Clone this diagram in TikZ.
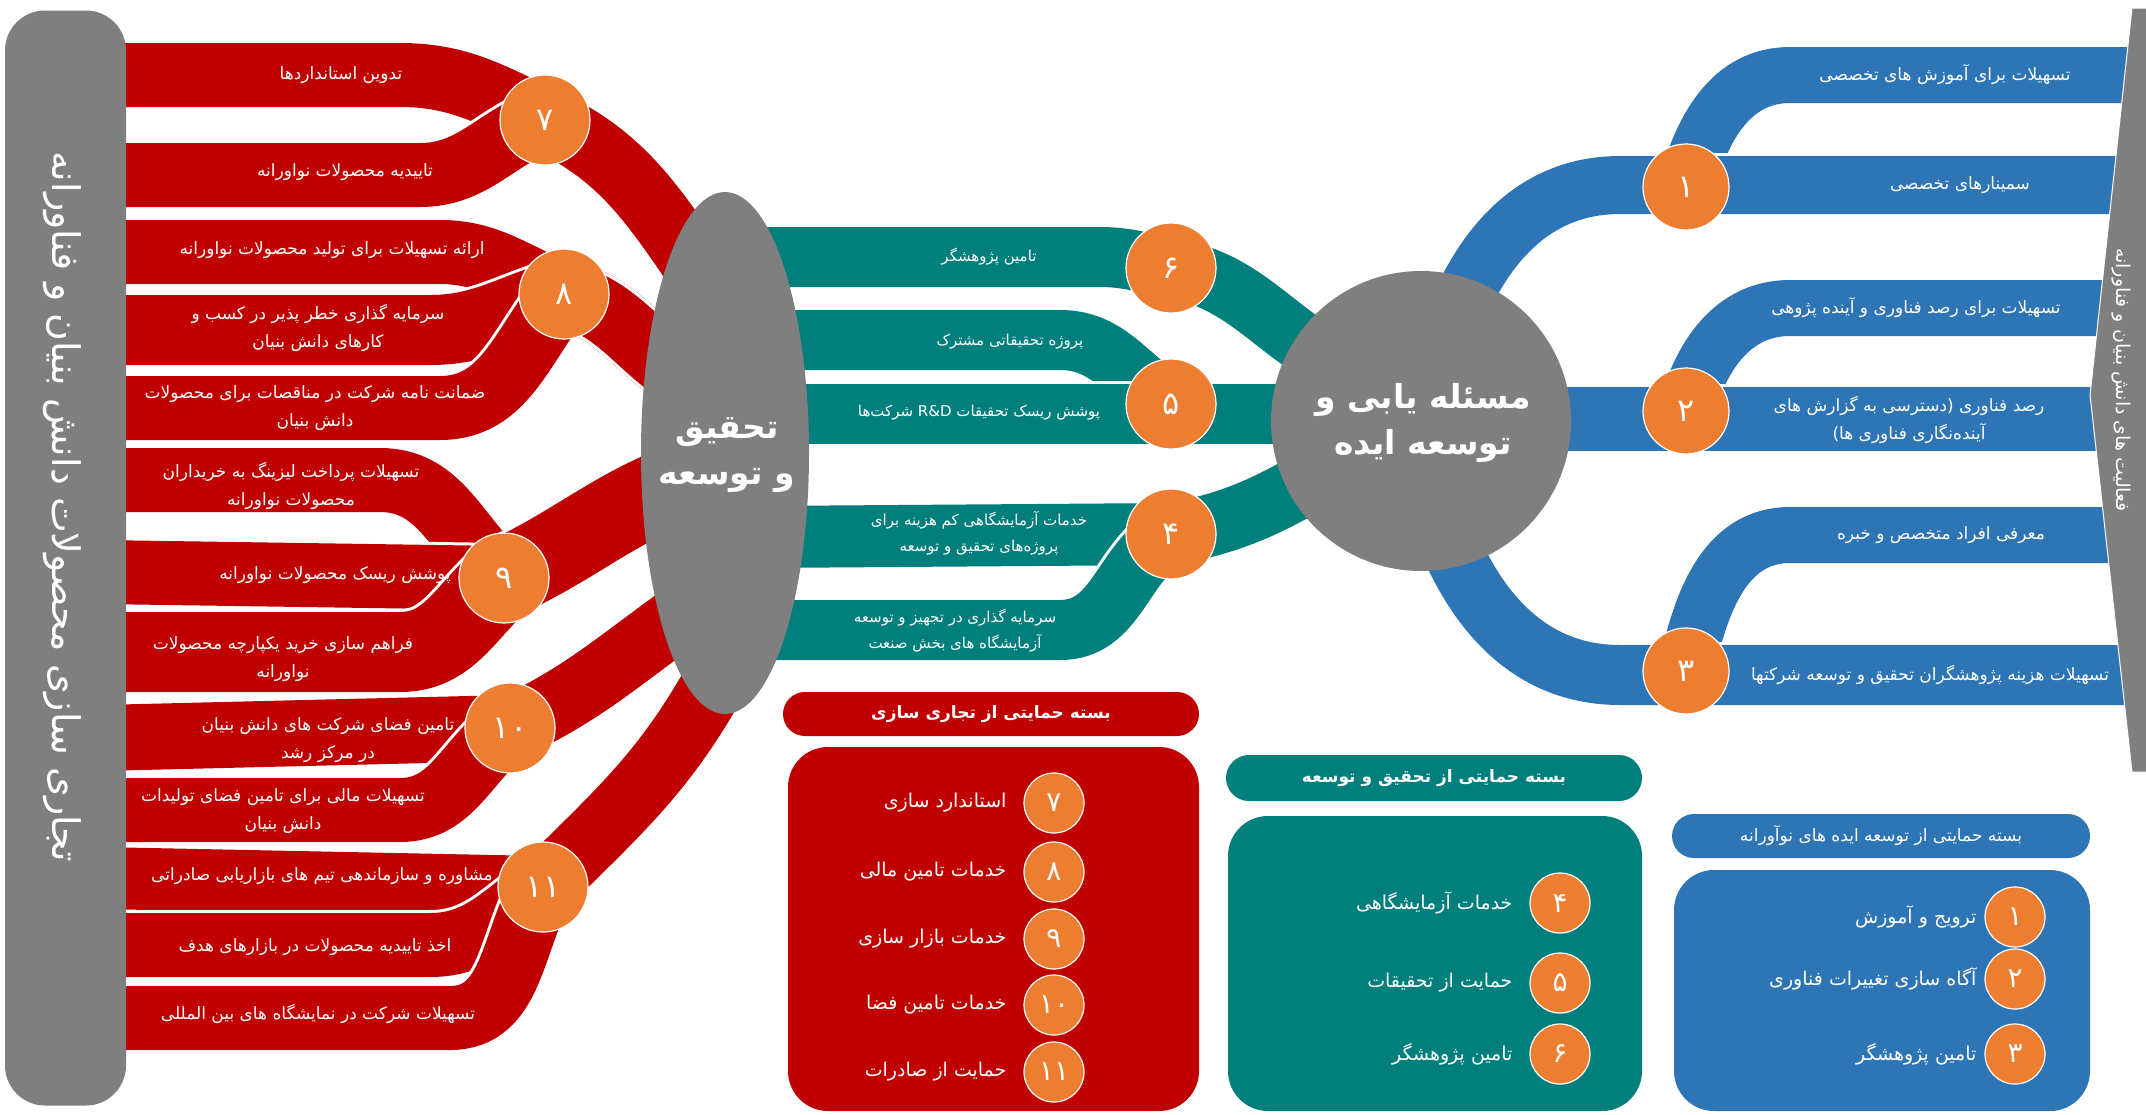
\documentclass[tikz,border=0pt]{standalone}
\usepackage{fontspec}
\usetikzlibrary{shapes.geometric}
\TeXXeTstate=1
\newfontfamily\fa[Script=Arabic]{DejaVu Sans}
\newcommand\rtxt[1]{\beginR#1\endR}
\newcommand\band[4]{\draw[white,line width=#3pt]#4;\draw[#1,line width=#2pt]#4;}
\definecolor{myred}{HTML}{C00000}
\definecolor{myteal}{HTML}{007F7C}
\definecolor{myblue}{HTML}{2E75B6}
\definecolor{myorange}{HTML}{ED7D31}
\definecolor{mygray}{HTML}{7F7F7F}
\tikzset{
  numc/.style={circle,fill=myorange,draw=white,line width=1.2pt,minimum size=90pt,inner sep=0pt,text=white,font=\fa\fontsize{32}{32}\selectfont},
  legc/.style={numc,minimum size=60pt,font=\fa\fontsize{28}{28}\selectfont},
  lbl/.style={text=white,align=center,font=\fa\fontsize{17}{28}\selectfont},
  tlbl/.style={lbl,font=\fa\fontsize{15}{26}\selectfont},
  leglbl/.style={text=white,anchor=east,font=\fa\fontsize{19}{19}\selectfont},
  ttl/.style={text=white,font=\fa\bfseries\fontsize{17}{17}\selectfont},
  hub/.style={text=white,align=center,font=\fa\bfseries\fontsize{33}{46}\selectfont},
}
\begin{document}
\begin{tikzpicture}[x=1pt,y=-1pt]
\useasboundingbox (0,0) rectangle (2146,1114);
% junction coordinates
\coordinate (k7) at (545,120);
\coordinate (k8) at (564,294);
\coordinate (k9) at (504,578);
\coordinate (k10) at (510,728);
\coordinate (k11) at (543,887);
\coordinate (e7) at (705,280);
\coordinate (e8) at (690,380);
\coordinate (e9) at (690,480);
\coordinate (e10) at (690,610);
\coordinate (e11) at (710,690);
\coordinate (k6) at (1171,268);
\coordinate (k5) at (1171,404);
\coordinate (k4) at (1171,534);
\coordinate (m6) at (1330,360);
\coordinate (m5) at (1330,414);
\coordinate (m4) at (1330,470);
\coordinate (k1) at (1686,187);
\coordinate (k2) at (1686,411);
\coordinate (k3) at (1686,671);
\coordinate (mb2) at (1450,330);
\coordinate (mb4) at (1421,419);
\coordinate (mb6) at (1440,520);
% red bands
\band{myred}{64}{70}{(100,75) -- (400,75) to[out=0,in=155] (k7) to[out=-25,in=125] (e7)}
\band{myred}{64}{70}{(100,175) -- (420,175) to[out=0,in=200] (k7) to[out=-25,in=125] (e7)}
\band{myred}{64}{70}{(100,252) -- (440,252) to[out=0,in=160] (k8) to[out=-15,in=150] (e8)}
\band{myred}{70}{76}{(100,330) -- (430,330) to[out=0,in=195] (k8) to[out=-15,in=150] (e8)}
\band{myred}{64}{70}{(100,408) -- (440,408) to[out=0,in=230] (k8) to[out=-15,in=150] (e8)}
\band{myred}{64}{70}{(100,480) -- (380,480) to[out=0,in=140] (k9) to[out=25,in=200] (e9)}
\band{myred}{64}{70}{(100,572) -- (k9) to[out=25,in=200] (e9)}
\band{myred}{80}{86}{(100,652) -- (400,652) to[out=0,in=220] (k9) to[out=25,in=200] (e9)}
\band{myred}{66}{72}{(100,738) -- (k10) to[out=25,in=215] (e10)}
\band{myred}{64}{70}{(100,810) -- (400,810) to[out=0,in=215] (k10) to[out=25,in=215] (e10)}
\band{myred}{62}{68}{(100,878) -- (k11) to[out=45,in=240] (e11)}
\band{myred}{64}{70}{(100,945) -- (430,945) to[out=0,in=215] (k11) to[out=45,in=240] (e11)}
\band{myred}{64}{70}{(100,1018) -- (450,1018) to[out=0,in=240] (k11) to[out=45,in=240] (e11)}
% teal bands
\band{myteal}{60}{66}{(760,257) -- (1100,257) to[out=0,in=170] (k6) to[out=-10,in=150] (m6)}
\band{myteal}{60}{66}{(760,340) -- (1060,340) to[out=0,in=150] (k5)}
\band{myteal}{60}{66}{(760,414) -- (m5)}
\band{myteal}{62}{68}{(760,537) -- (k4) to[out=10,in=210] (m4)}
\band{myteal}{60}{66}{(760,630) -- (1060,630) to[out=0,in=210] (k4)}
% blue bands
\band{myblue}{56}{62}{(k1) to[out=75,in=180] (1790,75) -- (2146,75)}
\band{myblue}{58}{64}{(mb2) to[out=70,in=180] (1620,185) -- (2146,185)}
\band{myblue}{56}{62}{(k2) to[out=75,in=180] (1790,308) -- (2146,308)}
\band{myblue}{64}{70}{(mb4) -- (2146,419)}
\band{myblue}{56}{62}{(k3) to[out=78,in=180] (1790,535) -- (2146,535)}
\band{myblue}{60}{66}{(mb6) to[out=-70,in=180] (1620,675) -- (2146,675)}
% hubs
\node[ellipse,fill=mygray,minimum width=168pt,minimum height=522pt,inner sep=0pt] (rd) at (725,453) {};
\node[hub] (rdt) at (727,455) {\rtxt{تحقیق}\\\rtxt{و توسعه}};
\node[circle,fill=mygray,minimum size=300pt,inner sep=0pt] (mc) at (1421,421) {};
\node[hub] (mct) at (1423,423) {\rtxt{مسئله یابی و}\\\rtxt{توسعه ایده}};
% side panels
\node[fill=mygray,rounded corners=40pt,minimum width=121pt,minimum height=1095pt,inner sep=0pt] (lp) at (65.5,558) {};
\node[rotate=-90,text=white,font=\fa\fontsize{38}{38}\selectfont] (lpt) at (62,507) {\rtxt{تجاری سازی  محصولات دانش بنیان و فناورانه}};
\path[fill=mygray,draw=white,line width=1pt] (2147,8) -- (2132,8) -- (2090,395) -- (2132,772) -- (2147,772) -- cycle;
\node[rotate=-90,text=white,font=\fa\fontsize{19}{19}\selectfont] (rpt) at (2121,380) {\rtxt{فعالیت های دانش بنیان و فناورانه}};
% junction circles
\node[numc] (n7) at (k7) {۷};
\node[numc] (n8) at (k8) {۸};
\node[numc] (n9) at (k9) {۹};
\node[numc] (n10) at (k10) {۱۰};
\node[numc] (n11) at (k11) {۱۱};
\node[numc] (n6) at (k6) {۶};
\node[numc] (n5) at (k5) {۵};
\node[numc] (n4) at (k4) {۴};
\node[numc,minimum size=86pt] (n1) at (k1) {۱};
\node[numc,minimum size=86pt] (n2) at (k2) {۲};
\node[numc,minimum size=86pt] (n3) at (k3) {۳};
% red labels
\node[lbl] (l1) at (341,75) {\rtxt{تدوین استانداردها}};
\node[lbl] (l2) at (345,172) {\rtxt{تاییدیه محصولات نواورانه}};
\node[lbl] (l3) at (332,250) {\rtxt{ارائه تسهیلات برای تولید محصولات نواورانه}};
\node[lbl] (l4) at (318,328) {\rtxt{سرمایه گذاری خطر پذیر در کسب و}\\\rtxt{کارهای دانش بنیان}};
\node[lbl] (l5) at (315,408) {\rtxt{ضمانت نامه شرکت در مناقصات برای محصولات}\\\rtxt{دانش بنیان}};
\node[lbl] (l6) at (291,486) {\rtxt{تسهیلات پرداخت لیزینگ به خریداران}\\\rtxt{محصولات نواورانه}};
\node[lbl] (l7) at (335,575) {\rtxt{پوشش ریسک محصولات نواورانه}};
\node[lbl] (l8) at (283,659) {\rtxt{فراهم سازی خرید یکپارچه محصولات}\\\rtxt{نواورانه}};
\node[lbl] (l9) at (328,740) {\rtxt{تامین فضای شرکت های دانش بنیان}\\\rtxt{در مرکز رشد}};
\node[lbl] (l10) at (283,811) {\rtxt{تسهیلات مالی برای تامین فضای تولیدات}\\\rtxt{دانش بنیان}};
\node[lbl] (l11) at (322,876) {\rtxt{مشاوره و سازماندهی تیم های بازاریابی صادراتی}};
\node[lbl] (l12) at (315,947) {\rtxt{اخذ تاییدیه محصولات در بازارهای هدف}};
\node[lbl] (l13) at (318,1014) {\rtxt{تسهیلات شرکت در نمایشگاه های بین المللی}};
% teal labels
\node[tlbl] (t1) at (989,257) {\rtxt{تامین پژوهشگر}};
\node[tlbl] (t2) at (1010,342) {\rtxt{پروژه تحقیقاتی مشترک}};
\node[tlbl] (t3) at (979,413) {\rtxt{پوشش ریسک تحقیقات \beginL R\&D\endL{} شرکت‌ها}};
\node[tlbl] (t4) at (979,533) {\rtxt{خدمات آزمایشگاهی کم هزینه برای}\\\rtxt{پروژه‌های تحقیق و توسعه}};
\node[tlbl] (t5) at (955,631) {\rtxt{سرمایه گذاری در تجهیز و توسعه}\\\rtxt{آزمایشگاه های بخش صنعت}};
% blue labels
\node[lbl] (b1) at (1945,75) {\rtxt{تسهیلات برای آموزش های تخصصی}};
\node[lbl] (b2) at (1960,185) {\rtxt{سمینارهای تخصصی}};
\node[lbl] (b3) at (1916,308) {\rtxt{تسهیلات برای رصد فناوری و آینده پژوهی}};
\node[lbl] (b4) at (1909,420) {\rtxt{رصد فناوری (دسترسی به گزارش های}\\\rtxt{آینده‌نگاری فناوری ها)}};
\node[lbl] (b5) at (1941,535) {\rtxt{معرفی افراد متخصص و خبره}};
\node[lbl] (b6) at (1930,675) {\rtxt{تسهیلات هزینه پژوهشگران تحقیق و توسعه شرکتها}};
% legends
\node[fill=myred,rounded corners=22pt,minimum width=416pt,minimum height=44pt] (rh) at (991,714) {};
\node[ttl] (rht) at (rh) {\rtxt{بسته حمایتی از تجاری سازی}};
\node[fill=myred,rounded corners=40pt,minimum width=411pt,minimum height=364pt] (rb) at (993.5,929) {};
\node[fill=myteal,rounded corners=23pt,minimum width=416pt,minimum height=46pt] (th) at (1434,778) {};
\node[ttl] (tht) at (th) {\rtxt{بسته حمایتی از تحقیق و توسعه}};
\node[fill=myteal,rounded corners=40pt,minimum width=414pt,minimum height=295pt] (tb) at (1435,963.5) {};
\node[fill=myblue,rounded corners=22pt,minimum width=418pt,minimum height=44pt] (bh) at (1881,836) {};
\node[text=white,font=\fa\fontsize{17}{17}\selectfont] (bht) at (bh) {\rtxt{بسته حمایتی از توسعه ایده های نوآورانه}};
\node[fill=myblue,rounded corners=40pt,minimum width=416pt,minimum height=241pt] (bb) at (1882,990.5) {};
\node[legc] (r7) at (1054,803) {۷};
\node[legc] (r8) at (1054,872) {۸};
\node[legc] (r9) at (1054,939) {۹};
\node[legc] (r10) at (1054,1005) {۱۰};
\node[legc] (r11) at (1054,1072) {۱۱};
\node[leglbl] (rl7) at (1010,803) {\rtxt{استاندارد سازی}};
\node[leglbl] (rl8) at (1010,872) {\rtxt{خدمات تامین مالی}};
\node[leglbl] (rl9) at (1010,939) {\rtxt{خدمات بازار سازی}};
\node[leglbl] (rl10) at (1010,1005) {\rtxt{خدمات تامین فضا}};
\node[leglbl] (rl11) at (1010,1072) {\rtxt{حمایت از صادرات}};
\node[legc] (g4) at (1560,903) {۴};
\node[legc] (g5) at (1560,983) {۵};
\node[legc] (g6) at (1560,1054) {۶};
\node[leglbl] (gl4) at (1516,903) {\rtxt{خدمات آزمایشگاهی}};
\node[leglbl] (gl5) at (1516,983) {\rtxt{حمایت از تحقیقات}};
\node[leglbl] (gl6) at (1516,1054) {\rtxt{تامین پژوهشگر}};
\node[legc] (u1) at (2015,917) {۱};
\node[legc] (u2) at (2015,979) {۲};
\node[legc] (u3) at (2015,1054) {۳};
\node[leglbl] (ul1) at (1980,917) {\rtxt{ترویج و آموزش}};
\node[leglbl] (ul2) at (1980,979) {\rtxt{آگاه سازی تغییرات فناوری}};
\node[leglbl] (ul3) at (1980,1054) {\rtxt{تامین پژوهشگر}};
\end{tikzpicture}
\end{document}
